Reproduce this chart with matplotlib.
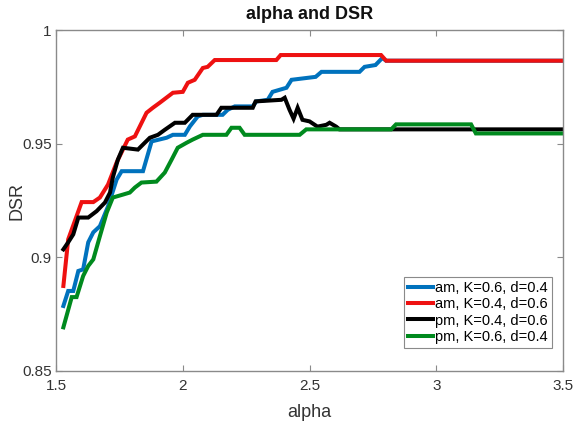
import matplotlib
matplotlib.use("Agg")
import matplotlib.pyplot as plt

plt.rcParams['font.family'] = ['Liberation Sans', 'DejaVu Sans']

# Data (breakpoints)
am_k06_alpha = [1.529, 1.548, 1.568, 1.588, 1.607, 1.627, 1.647, 1.673, 1.705, 1.739, 1.759,
                1.843, 1.877, 1.936, 1.961, 2.008, 2.028, 2.059, 2.079, 2.157, 2.177, 2.205,
                2.276, 2.290, 2.335, 2.354, 2.409, 2.429, 2.524, 2.547, 2.697, 2.717, 2.760,
                2.787, 2.802, 3.5]
am_k06_dsr = [0.8786, 0.8852, 0.8852, 0.8940, 0.8947, 0.9066, 0.9110, 0.9137, 0.9224, 0.9342, 0.9379,
              0.9379, 0.9510, 0.9526, 0.9539, 0.9539, 0.9576, 0.9620, 0.9627, 0.9627, 0.9649, 0.9664,
              0.9664, 0.9686, 0.9693, 0.9728, 0.9746, 0.9781, 0.9794, 0.9816, 0.9816, 0.9838, 0.9846,
              0.9877, 0.9865, 0.9865]

am_k04_alpha = [1.529, 1.548, 1.581, 1.601, 1.647, 1.673, 1.705, 1.739, 1.783, 1.811, 1.857,
                1.882, 1.909, 1.961, 2.000, 2.020, 2.047, 2.079, 2.098, 2.126, 2.369, 2.386,
                2.782, 2.802, 3.5]
am_k04_dsr = [0.8874, 0.9079, 0.9181, 0.9243, 0.9243, 0.9263, 0.9320, 0.9417, 0.9518, 0.9532, 0.9636,
              0.9658, 0.9680, 0.9724, 0.9728, 0.9768, 0.9781, 0.9833, 0.9838, 0.9868, 0.9868, 0.9890,
              0.9890, 0.9865, 0.9865]

pm_k04_alpha = [1.529, 1.548, 1.568, 1.588, 1.627, 1.660, 1.693, 1.713, 1.724, 1.744, 1.764,
                1.823, 1.850, 1.870, 1.902, 1.929, 1.969, 2.008, 2.039, 2.133, 2.152, 2.276,
                2.287, 2.389, 2.402, 2.421, 2.437, 2.453, 2.472, 2.500, 2.531, 2.566, 2.579,
                2.605, 2.618, 3.5]
pm_k04_dsr = [0.9035, 0.9066, 0.9101, 0.9175, 0.9175, 0.9203, 0.9241, 0.9285, 0.9351, 0.9430, 0.9482,
              0.9474, 0.9504, 0.9526, 0.9539, 0.9561, 0.9592, 0.9592, 0.9627, 0.9627, 0.9658, 0.9658,
              0.9686, 0.9693, 0.9702, 0.9649, 0.9610, 0.9658, 0.9605, 0.9598, 0.9575, 0.9583, 0.9592,
              0.9575, 0.9563, 0.9563]

pm_k06_alpha = [1.529, 1.562, 1.581, 1.607, 1.627, 1.647, 1.673, 1.700, 1.724, 1.764, 1.791,
                1.811, 1.837, 1.896, 1.929, 1.956, 1.980, 2.015, 2.039, 2.079, 2.172, 2.192,
                2.224, 2.244, 2.461, 2.487, 2.822, 2.841, 3.137, 3.156, 3.5]
pm_k06_dsr = [0.8692, 0.8825, 0.8825, 0.8918, 0.8962, 0.8991, 0.9093, 0.9197, 0.9263, 0.9276, 0.9285,
              0.9307, 0.9329, 0.9333, 0.9373, 0.9430, 0.9482, 0.9504, 0.9518, 0.9539, 0.9539, 0.9570,
              0.9570, 0.9539, 0.9539, 0.9563, 0.9563, 0.9585, 0.9585, 0.9545, 0.9545]

labels = ["am, K=0.6, d=0.4", "am, K=0.4, d=0.6", "pm, K=0.4, d=0.6", "pm, K=0.6, d=0.4"]
colors = ["#0072BD", "#EE1111", "#000000", "#008A1E"]

x_ticks = [1.5, 2, 2.5, 3, 3.5]
x_ticklabels = ["1.5", "2", "2.5", "3", "3.5"]
y_ticks = [0.85, 0.9, 0.95, 1.0]
y_ticklabels = ["0.85", "0.9", "0.95", "1"]

fig = plt.figure(figsize=(5.74, 4.23), dpi=100)
ax = fig.add_axes([0.0976, 0.123, 0.8834, 0.806])

series = [(am_k06_alpha, am_k06_dsr), (am_k04_alpha, am_k04_dsr),
          (pm_k04_alpha, pm_k04_dsr), (pm_k06_alpha, pm_k06_dsr)]
for (xs, ys), lab, c in zip(series, labels, colors):
    ax.plot(xs, ys, color=c, lw=2.9, label=lab, solid_joinstyle='miter')

ax.set_xlim(1.5, 3.5)
ax.set_ylim(0.85, 1.0)
ax.set_xticks(x_ticks)
ax.set_xticklabels(x_ticklabels)
ax.set_yticks(y_ticks)
ax.set_yticklabels(y_ticklabels)

axis_gray = "#8a8a8a"
for s in ax.spines.values():
    s.set_color(axis_gray)
    s.set_linewidth(1.0)
ax.tick_params(direction='in', top=True, right=True, length=4, width=0.8,
               color=axis_gray, labelsize=11, labelcolor="#333333")
ax.tick_params(axis='x', pad=6)
ax.tick_params(axis='y', pad=3)

ax.set_title("alpha and DSR", fontsize=13, fontweight='bold', color="#111111", pad=8)
ax.set_xlabel("alpha", fontsize=13, color="#333333", labelpad=8)
ax.set_ylabel("DSR", fontsize=13, color="#333333", labelpad=-2)

leg = ax.legend(loc='lower right', bbox_to_anchor=(0.978, 0.067), borderaxespad=0,
                fontsize=10.5, handlelength=1.7, handletextpad=0.15, labelspacing=0.15,
                borderpad=0.3, fancybox=False, framealpha=1, edgecolor=axis_gray)
leg.get_frame().set_linewidth(0.8)

fig.savefig("out.png", dpi=100)
